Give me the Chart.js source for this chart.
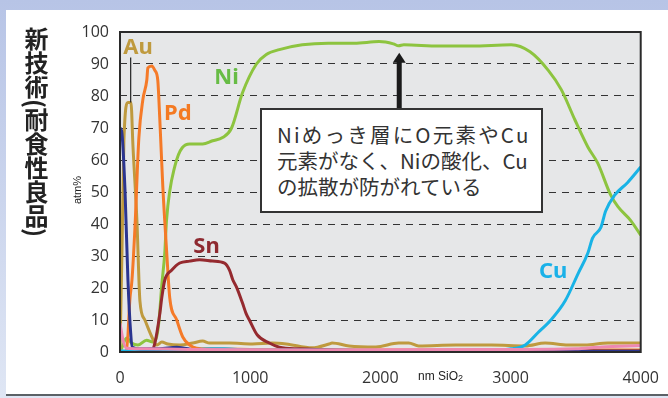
<!DOCTYPE html>
<html>
<head>
<meta charset="utf-8">
<script src="https://cdn.jsdelivr.net/npm/chart.js@4.4.1/dist/chart.umd.min.js"></script>
<style>
  html, body { margin: 0; padding: 0; }
  body {
    width: 668px; height: 398px; position: relative; overflow: hidden;
    background: linear-gradient(to bottom, #b7c4e6 0%, #dfe6f4 100%);
  }
  #panel {
    position: absolute; left: 6px; top: 10px; right: 0; height: 384px;
    background: #fff; border-bottom: 2px solid #5b6166;
  }
  #c { position: absolute; left: 0; top: 0; }
  #title {
    position: absolute; left: 24px; top: 27px;
    writing-mode: vertical-rl;
    font: bold 24px "Noto Sans CJK JP"; color: #222; line-height: 1;
  }
  #unit {
    position: absolute; left: 62px; top: 184px; width: 30px; text-align: center;
    transform: rotate(-90deg);
    font: 11px "Liberation Sans"; color: #222;
  }
  #xname {
    position: absolute; left: 418px; top: 369px;
    font: 12px "Liberation Sans"; color: #222;
  }
  #xname sub { font-size: 9px; vertical-align: -1px; }
  #note {
    position: absolute; left: 260px; top: 108px;
    background: #fff; border: 2px solid #333;
    font: 20.5px "Noto Sans CJK JP"; color: #333; line-height: 26px;
    padding: 11px 0 0 15px; box-sizing: content-box; width: 264px; height: 90px;
  }
  #note .wide { letter-spacing: 2.2px; }
</style>
</head>
<body>
<div id="panel"></div>
<canvas id="c" width="668" height="398"></canvas>
<div id="title">新技術(耐食性良品)</div>
<div id="unit">atm%</div>
<div id="xname">nm SiO<sub>2</sub></div>
<div id="note"><span class="wide">Niめっき層にO元素やCu</span><br>元素がなく、Niの酸化、Cu<br>の拡散が防がれている</div>
<script>
// depth (nm SiO2) and atm% per element
const auX = [0, 15, 30, 61, 84, 100, 130, 153, 191, 245, 283, 321, 367, 459, 558, 635, 688, 841, 1017, 1170, 1277, 1476, 1606, 1629, 1759, 1966, 2141, 2218, 2294, 2577, 2853, 3113, 3266, 3442, 3572, 3748, 4000];
const auY = [0.5, 31, 66, 78, 78, 64, 41, 16, 10, 4.7, 2.2, 3.1, 2.5, 2.2, 2.8, 3.4, 2.8, 2.8, 2.5, 2.8, 2.5, 1.3, 2.5, 2.8, 1.9, 1.6, 2.8, 2.8, 1.9, 2.2, 2.2, 1.9, 2.8, 2.2, 2.2, 2.8, 2.8];

const pdX = [0, 50, 77, 92, 115, 145, 176, 206, 214, 245, 268, 290, 306, 329, 359, 382, 436, 482, 535, 589, 700, 1000, 1500, 2000, 2500, 3000, 3500, 4000];
const pdY = [0, 0.3, 17, 22.5, 39, 67, 79, 85, 88.8, 89.4, 88, 85, 72.5, 51.6, 31, 17, 10, 4.7, 2.2, 1.2, 1, 0.8, 0.6, 0.6, 0.6, 0.6, 0.6, 0.6];

const niX = [0, 13, 51, 89, 138, 204, 252, 281, 300, 321, 344, 357, 421, 535, 635, 711, 788, 857, 941, 1048, 1124, 1224, 1400, 1600, 1800, 1990, 2100, 2140, 2180, 2450, 2700, 3005, 3150, 3290, 3390, 3495, 3595, 3670, 3770, 3825, 3925, 4000];
const niY = [0, 1.2, 4.4, 2.8, 2.2, 3.7, 3.1, 4.7, 10, 21, 31, 41, 58, 65, 65, 66, 67, 70, 81, 90, 93, 94.5, 96, 96.5, 96.5, 97, 96.3, 95.7, 96, 95.6, 95.6, 96, 93.8, 88, 82, 72.5, 64, 59, 49, 45.4, 41, 36.5];

const snX = [0, 240, 268, 306, 321, 344, 398, 459, 535, 612, 711, 803, 841, 867, 895, 941, 969, 994, 1055, 1147, 1224, 1377, 2000, 3000, 4000];
const snY = [0, 0.3, 2.8, 12, 17, 22.5, 25.6, 27.8, 28.4, 28.8, 28.4, 27.8, 25.6, 22.5, 20.3, 15.3, 12, 10, 5.3, 2.8, 1.5, 1, 0.4, 0.3, 0.3];

const cuX = [0, 500, 700, 800, 1000, 2000, 2750, 3005, 3113, 3210, 3310, 3420, 3520, 3595, 3630, 3695, 3730, 3800, 3900, 4000];
const cuY = [0.3, 0.5, 1, 1, 0.6, 0.5, 0.3, 1, 2.2, 6, 10, 16, 24.6, 31, 35.6, 39, 44, 49, 53, 57.8];

const nvX = [0, 13, 38, 61, 82, 95, 150, 300, 436, 600, 1000, 2000, 4000];
const nvY = [70, 69, 51, 22.5, 6, 1.5, 1, 1, 1.5, 0.5, 0.3, 0.2, 0.2];

const pkX = [0, 23, 50, 200, 600, 1500, 3000, 3500, 3700, 4000];
const pkY = [9, 3.8, 1.2, 1, 0.8, 0.6, 0.8, 1, 1.6, 2];

const xTicks = [0, 1000, 2000, 3000, 4000];
const yTicks = [0, 10, 20, 30, 40, 50, 60, 70, 80, 90, 100];

function pts(xs, ys) { return xs.map((x, i) => ({ x: x, y: ys[i] })); }

function line(data, color) {
    return {
        data: data,
        borderColor: color,
        borderWidth: 3,
        pointRadius: 0,
        fill: false,
        cubicInterpolationMode: 'monotone'
    };
}

const decor = {
    id: 'decor',
    beforeDraw(chart) {
        const { ctx, chartArea: a } = chart;
        ctx.save();
        ctx.fillStyle = '#e6e7e8';
        ctx.fillRect(a.left, a.top, a.right - a.left, a.bottom - a.top);
        ctx.restore();
    },
    afterDatasetsDraw(chart) {
        const { ctx, chartArea: a, scales: { x, y } } = chart;
        ctx.save();
        ctx.strokeStyle = '#2a2a2a';
        ctx.lineWidth = 2;
        ctx.strokeRect(a.left, a.top, a.right - a.left, a.bottom - a.top);

        // series names
        ctx.font = 'bold 22px "Noto Sans"';
        ctx.textAlign = 'center';
        ctx.textBaseline = 'middle';
        [['Au', '#bf9a3e', 138, 95], ['Pd', '#f47a22', 444, 74.4], ['Ni', '#67bc45', 818, 85.6],
         ['Sn', '#8e2a30', 665, 33], ['Cu', '#1ab1e8', 3327, 25]].forEach(l => {
            ctx.fillStyle = l[1];
            ctx.fillText(l[0], x.getPixelForValue(l[2]), y.getPixelForValue(l[3]));
        });

        // Au leader
        ctx.strokeStyle = '#222';
        ctx.lineWidth = 1.2;
        ctx.beginPath();
        ctx.moveTo(x.getPixelForValue(82), y.getPixelForValue(92));
        ctx.lineTo(x.getPixelForValue(82), y.getPixelForValue(78));
        ctx.stroke();

        // arrow to Ni plateau
        const ax = x.getPixelForValue(2145);
        const tip = y.getPixelForValue(93.5);
        ctx.fillStyle = '#1a1a1a';
        ctx.fillRect(ax - 2.5, tip + 8, 5, y.getPixelForValue(76) - tip - 8);
        ctx.beginPath();
        ctx.moveTo(ax, tip);
        ctx.lineTo(ax - 6.5, tip + 10);
        ctx.lineTo(ax + 6.5, tip + 10);
        ctx.closePath();
        ctx.fill();
        ctx.restore();
    }
};

new Chart(document.getElementById('c'), {
    type: 'line',
    data: {
        datasets: [
            line(pts(pkX, pkY), '#ee88b0'),
            line(pts(nvX, nvY), '#2b3590'),
            line(pts(cuX, cuY), '#19b3e6'),
            line(pts(snX, snY), '#952a2f'),
            line(pts(pdX, pdY), '#f57a28'),
            line(pts(auX, auY), '#bf9a3e'),
            line(pts(niX, niY), '#8dc43f')
        ]
    },
    options: {
        responsive: false,
        animation: false,
        devicePixelRatio: 1,
        layout: { padding: { left: 0, top: 32, right: 25, bottom: 0 } },
        plugins: { legend: { display: false }, tooltip: { enabled: false } },
        scales: {
            x: {
                type: 'linear', min: 0, max: 4000,
                afterBuildTicks: s => { s.ticks = xTicks.map(v => ({ value: v })); },
                afterFit: s => { s.height = 46; },
                grid: { display: false },
                border: { display: false },
                ticks: { padding: 9, color: '#333', font: { family: 'Open Sans', size: 16 }, callback: v => String(v) }
            },
            y: {
                min: 0, max: 100,
                afterBuildTicks: s => { s.ticks = yTicks.map(v => ({ value: v })); },
                afterFit: s => { s.width = 120; },
                grid: {
                    drawTicks: false,
                    color: c => (c.tick.value === 0 || c.tick.value === 100) ? 'rgba(0,0,0,0)' : '#333',
                    lineWidth: 1
                },
                border: { display: false, dash: [7, 6] },
                ticks: { padding: 11, color: '#333', font: { family: 'Open Sans', size: 16 }, callback: v => String(v) }
            }
        }
    },
    plugins: [decor]
});
</script>
</body>
</html>
